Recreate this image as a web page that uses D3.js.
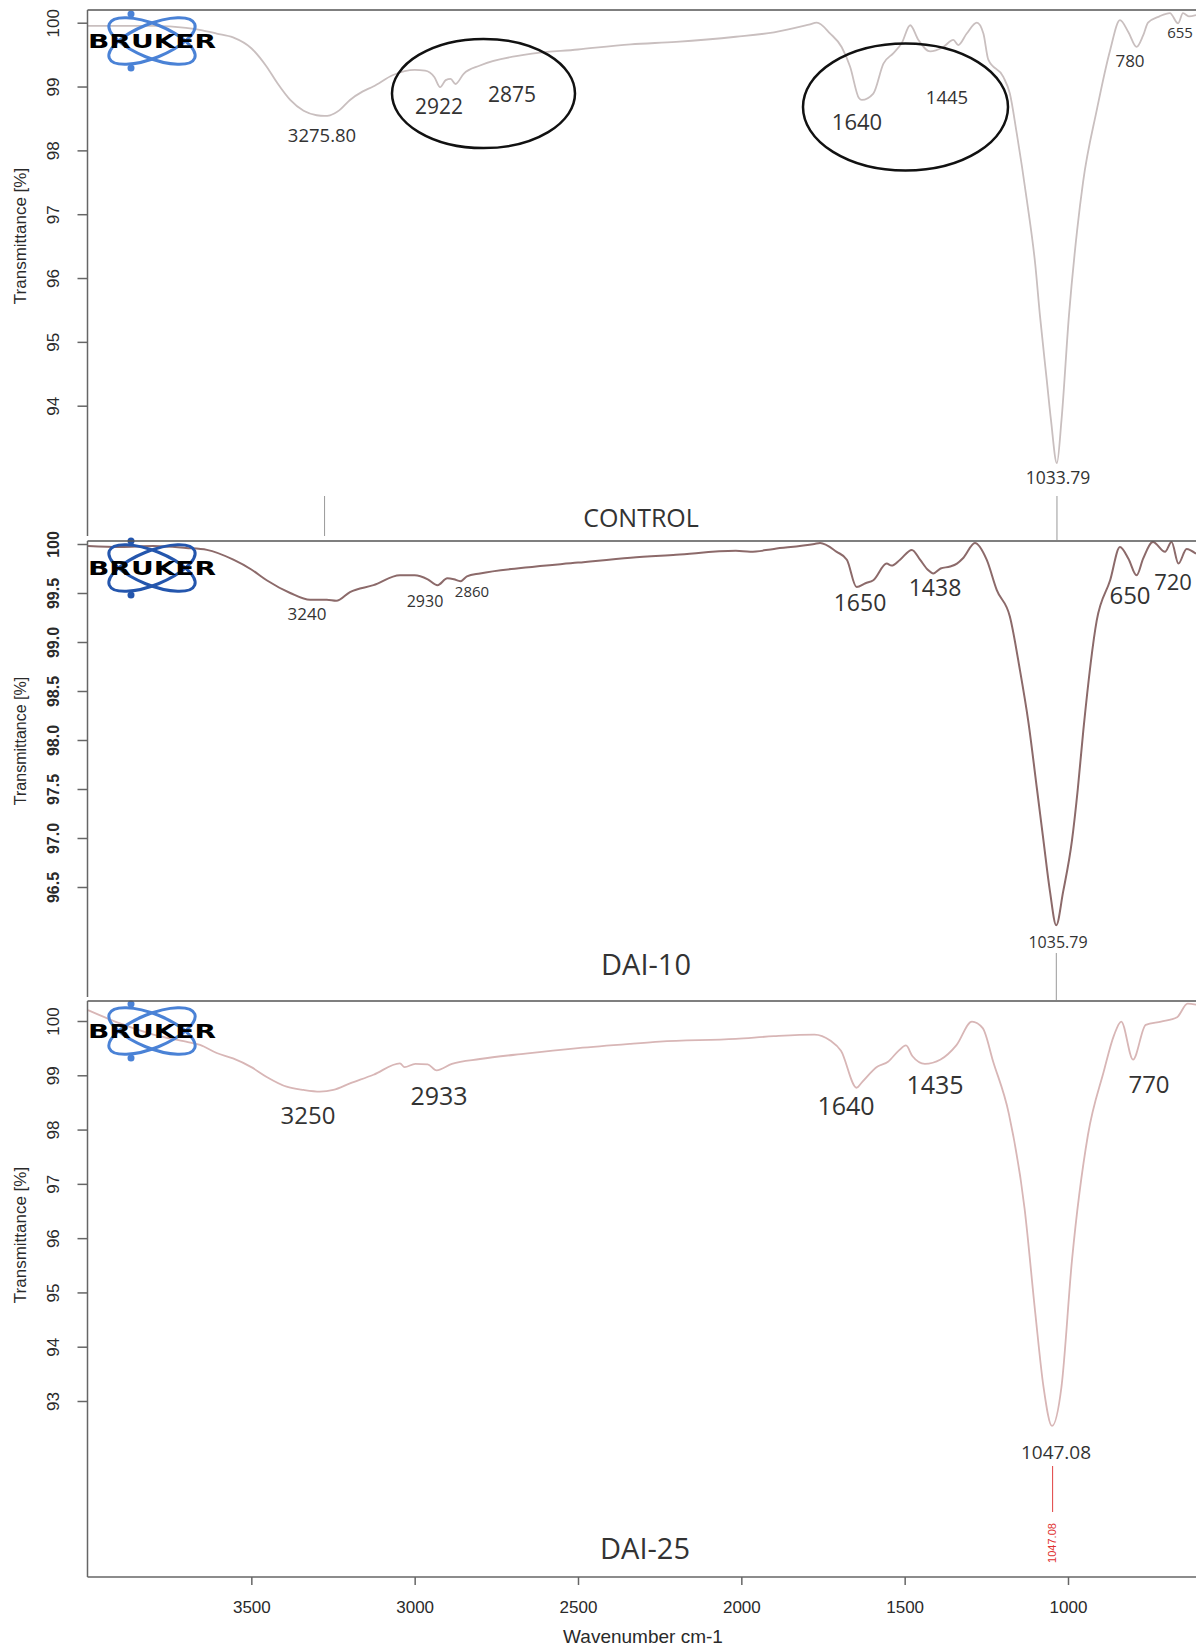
<!DOCTYPE html>
<head>
<meta charset="utf-8">
<style>
body, html {
  margin: 0;
  background: #fff;
  font-family: "Liberation Sans", arial;
}
.axis path, .axis line {
  stroke: #666;
  stroke-width: 1.5;
}
.axis text {
  font-family: "Liberation Sans", arial;
  fill: #2a2a2a;
}
.peak {
  font-family: "Open Sans", sans-serif;
  fill: #333;
}
.ylab {
  font-family: "Liberation Sans", arial;
  fill: #2a2a2a;
}
</style>
<script src="https://d3js.org/d3.v7.min.js"></script>
</head>
<body>
<script>

//==========================================
// x axis
var xTicks = [3500, 3000, 2500, 2000, 1500, 1000];

// CONTROL
var ctrlWn = [4000, 3900, 3800, 3700, 3650, 3606, 3556, 3500, 3453, 3420, 3381, 3340, 3300, 3276, 3259, 3230, 3198, 3160, 3127, 3066, 3000, 2968, 2940, 2922, 2905, 2890, 2875, 2850, 2800, 2661, 2500, 2339, 2200, 2017, 1900, 1793, 1769, 1728, 1693, 1667, 1640, 1631, 1596, 1565, 1535, 1509, 1483, 1458, 1422, 1382, 1351, 1336, 1310, 1279, 1259, 1244, 1198, 1178, 1157, 1126, 1100, 1086, 1065, 1052, 1034, 1020, 997, 972, 954, 912, 871, 841, 815, 790, 770, 755, 720, 688, 663, 648, 630, 608];
var ctrlT  = [99.95, 99.95, 99.95, 99.92, 99.88, 99.83, 99.77, 99.6, 99.31, 99.05, 98.79, 98.62, 98.55, 98.54, 98.55, 98.63, 98.79, 98.92, 99.0, 99.18, 99.26, 99.25, 99.15, 98.99, 99.1, 99.12, 99.04, 99.2, 99.33, 99.5, 99.58, 99.66, 99.7, 99.78, 99.85, 99.97, 100.0, 99.83, 99.62, 99.31, 98.82, 98.79, 98.89, 99.36, 99.52, 99.68, 99.96, 99.73, 99.55, 99.62, 99.73, 99.65, 99.83, 100.0, 99.83, 99.42, 99.15, 98.89, 98.27, 97.22, 96.2, 95.42, 94.4, 93.77, 93.1, 93.77, 95.42, 96.75, 97.5, 98.63, 99.57, 100.04, 99.85, 99.62, 99.8, 100.0, 100.1, 100.15, 99.99, 100.15, 100.1, 100.12];
var ctrlTicks = [100, 99, 98, 97, 96, 95, 94];

// DAI-10
var dai10Wn = [4000, 3900, 3800, 3700, 3636, 3555, 3500, 3453, 3381, 3320, 3269, 3240, 3198, 3126, 3045, 3000, 2960, 2930, 2900, 2880, 2860, 2840, 2800, 2661, 2500, 2339, 2200, 2017, 1973, 1900, 1776, 1759, 1708, 1677, 1647, 1620, 1596, 1555, 1540, 1514, 1478, 1453, 1430, 1412, 1390, 1361, 1340, 1320, 1285, 1249, 1218, 1178, 1147, 1122, 1095, 1075, 1055, 1036, 1015, 988, 970, 953, 912, 871, 841, 815, 790, 770, 740, 703, 683, 662, 637, 608];
var dai10T  = [99.98, 99.97, 99.98, 99.96, 99.94, 99.84, 99.74, 99.63, 99.5, 99.43, 99.43, 99.42, 99.51, 99.58, 99.68, 99.68, 99.64, 99.58, 99.65, 99.64, 99.62, 99.67, 99.7, 99.76, 99.81, 99.86, 99.89, 99.93, 99.92, 99.95, 100.0, 100.01, 99.92, 99.84, 99.56, 99.6, 99.63, 99.8, 99.78, 99.84, 99.94, 99.84, 99.74, 99.7, 99.75, 99.77, 99.8, 99.86, 100.01, 99.84, 99.53, 99.26, 98.71, 98.2, 97.5, 96.97, 96.45, 96.11, 96.45, 96.97, 97.5, 98.1, 99.22, 99.63, 99.97, 99.85, 99.68, 99.85, 100.02, 99.92, 100.02, 99.8, 99.95, 99.9];
var dai10Ticks = [100, 99.5, 99.0, 98.5, 98.0, 97.5, 97.0, 96.5];

// DAI-25
var dai25Wn = [4000, 3900, 3800, 3700, 3657, 3606, 3556, 3500, 3453, 3392, 3340, 3290, 3249, 3198, 3126, 3045, 3031, 2998, 2960, 2933, 2886, 2800, 2661, 2500, 2339, 2250, 2017, 1900, 1776, 1728, 1695, 1647, 1631, 1583, 1551, 1519, 1496, 1476, 1438, 1390, 1342, 1294, 1261, 1229, 1181, 1133, 1100, 1075, 1049, 1020, 988, 939, 891, 859, 837, 801, 762, 715, 666, 634, 608];
var dai25T  = [100.2, 99.95, 99.75, 99.62, 99.56, 99.41, 99.31, 99.15, 98.97, 98.79, 98.73, 98.7, 98.73, 98.85, 99.01, 99.22, 99.15, 99.21, 99.2, 99.09, 99.21, 99.3, 99.4, 99.5, 99.58, 99.62, 99.67, 99.72, 99.75, 99.64, 99.45, 98.77, 98.87, 99.16, 99.25, 99.45, 99.55, 99.35, 99.21, 99.29, 99.55, 99.99, 99.87, 99.25, 98.29, 96.55, 94.61, 93.26, 92.54, 93.26, 95.58, 97.9, 99.06, 99.74, 99.99, 99.29, 99.93, 99.99, 100.07, 100.32, 100.3];
var dai25Ticks = [100, 99, 98, 97, 96, 95, 94, 93];

//==========================================
var width = 1196,
    height = 1648,
    left = 87.5,
    right = 1196;

var svg = d3.select('body').append('svg')
    .attr('width', width)
    .attr('height', height);

var x = d3.scaleLinear()
    .domain([4000, 1000])
    .range([88, 1068]);

//--------------------------------------
function drawLogo(g, ty, blue) {
  var logo = g.append('g').attr('transform', 'translate(152,' + ty + ')');
  [-22, 22].forEach(function(a) {
    logo.append('ellipse')
      .attr('rx', 46).attr('ry', 17)
      .attr('transform', 'rotate(' + a + ')')
      .attr('fill', 'none')
      .attr('stroke', blue)
      .attr('stroke-width', 3);
  });
  logo.append('circle').attr('cx', -21).attr('cy', -27).attr('r', 3.5).attr('fill', blue);
  logo.append('circle').attr('cx', -21).attr('cy', 27).attr('r', 3.5).attr('fill', blue);
  logo.append('text')
    .attr('x', -64).attr('y', 7)
    .attr('textLength', 128)
    .attr('lengthAdjust', 'spacingAndGlyphs')
    .style('font-family', '"DejaVu Sans", sans-serif')
    .style('font-weight', 900)
    .style('font-size', '19px')
    .attr('fill', '#000')
    .text('BRUKER');
}

//--------------------------------------
function drawPanel(p) {
  var g = svg.append('g');
  var y = d3.scaleLinear().domain([100, p.tmin]).range([p.y100, p.ymin]);

  var clipId = 'clip' + p.id;
  svg.append('clipPath').attr('id', clipId)
    .append('rect')
    .attr('x', left).attr('y', p.top)
    .attr('width', right - left).attr('height', p.bottom - p.top);

  var data = p.wn.map(function(w, i) { return [w, p.t[i]]; });
  var line = d3.line()
    .x(function(d) { return x(d[0]); })
    .y(function(d) { return y(d[1]); })
    .curve(d3.curveMonotoneX);

  g.append('path')
    .datum(data)
    .attr('clip-path', 'url(#' + clipId + ')')
    .attr('fill', 'none')
    .attr('stroke', p.color)
    .attr('stroke-width', p.sw)
    .attr('d', line);

  drawLogo(g, p.logoY, p.blue);

  // frame: top and left
  g.append('line')
    .attr('x1', left).attr('x2', right)
    .attr('y1', p.top).attr('y2', p.top)
    .attr('stroke', '#555').attr('stroke-width', 1.5);

  var yAxis = d3.axisLeft(y)
    .tickValues(p.ticks)
    .tickSize(10)
    .tickSizeOuter(0)
    .tickFormat(p.fmt);
  var ya = g.append('g')
    .attr('class', 'axis')
    .attr('transform', 'translate(' + left + ',0)')
    .call(yAxis);
  ya.select('.domain').attr('d', 'M0,' + p.top + 'V' + p.bottom);
  ya.selectAll('.tick text')
    .attr('transform', 'rotate(-90)')
    .attr('x', 0).attr('y', -34)
    .attr('dy', '0.35em')
    .style('text-anchor', 'middle')
    .style('font-size', p.tickSize + 'px')
    .style('font-weight', p.bold ? 'bold' : 'normal');

  g.append('text')
    .attr('class', 'ylab')
    .attr('transform', 'translate(20,' + p.labY + ') rotate(-90)')
    .attr('text-anchor', 'middle')
    .attr('dy', '0.35em')
    .style('font-size', p.labSize + 'px')
    .text('Transmittance [%]');

  // peak markers
  p.marks.forEach(function(m) {
    g.append('line')
      .attr('x1', x(m.w)).attr('x2', x(m.w))
      .attr('y1', m.y1).attr('y2', m.y2)
      .attr('stroke', m.color || '#999')
      .attr('stroke-width', 1);
  });

  // peak labels
  p.labels.forEach(function(l) {
    g.append('text')
      .attr('class', 'peak')
      .attr('x', l.x).attr('y', l.y)
      .attr('dy', '0.35em')
      .attr('text-anchor', 'middle')
      .style('font-size', l.size + 'px')
      .text(l.text);
  });

  g.append('text')
    .attr('class', 'peak')
    .attr('x', p.name.x).attr('y', p.name.y)
    .attr('dy', '0.35em')
    .attr('text-anchor', 'middle')
    .style('font-size', p.name.size + 'px')
    .text(p.name.text);

  return g;
}

//==========================================
var g1 = drawPanel({
  id: 1, wn: ctrlWn, t: ctrlT, ticks: ctrlTicks, tmin: 94,
  y100: 22.7, ymin: 405.7, top: 10, bottom: 536,
  color: '#c9bfbf', sw: 1.8, logoY: 41, labY: 236, bold: false,
  blue: '#4a82d6', tickSize: 17, labSize: 17,
  fmt: d3.format('d'),
  marks: [{w: 3275.8, y1: 496, y2: 536}, {w: 1033.79, y1: 496, y2: 540}],
  labels: [
    {text: '3275.80', x: 322, y: 136, size: 18.5},
    {text: '2922', x: 439, y: 107, size: 21},
    {text: '2875', x: 512, y: 95, size: 21},
    {text: '1640', x: 857, y: 122, size: 22},
    {text: '1445', x: 947, y: 98, size: 18.5},
    {text: '780', x: 1130, y: 61, size: 17},
    {text: '655', x: 1180, y: 33, size: 15},
    {text: '1033.79', x: 1058, y: 478, size: 17.5}
  ],
  name: {text: 'CONTROL', x: 641, y: 518, size: 25}
});

// circled regions
[{cx: 483.5, cy: 93.5, rx: 91.5, ry: 54.6}, {cx: 905.5, cy: 107, rx: 102.5, ry: 63.5}].forEach(function(e) {
  g1.append('ellipse')
    .attr('cx', e.cx).attr('cy', e.cy)
    .attr('rx', e.rx).attr('ry', e.ry)
    .attr('fill', 'none')
    .attr('stroke', '#111')
    .attr('stroke-width', 2.5);
});

drawPanel({
  id: 2, wn: dai10Wn, t: dai10T, ticks: dai10Ticks, tmin: 96.5,
  y100: 544, ymin: 887, top: 541, bottom: 997,
  color: '#8c6a6a', sw: 2, logoY: 568, labY: 741, bold: true,
  blue: '#2456ad', tickSize: 16, labSize: 16,
  fmt: function(d) { return d === 100 ? '100' : d3.format('.1f')(d); },
  marks: [{w: 1035.79, y1: 953, y2: 1000}],
  labels: [
    {text: '3240', x: 307, y: 614, size: 17},
    {text: '2930', x: 425, y: 601, size: 16},
    {text: '2860', x: 472, y: 592, size: 15},
    {text: '1650', x: 860, y: 603, size: 23},
    {text: '1438', x: 935, y: 588, size: 23},
    {text: '650', x: 1130, y: 596, size: 24},
    {text: '720', x: 1173, y: 582, size: 22},
    {text: '1035.79', x: 1058, y: 942, size: 16}
  ],
  name: {text: 'DAI-10', x: 646, y: 965, size: 29}
});

var g3 = drawPanel({
  id: 3, wn: dai25Wn, t: dai25T, ticks: dai25Ticks, tmin: 93,
  y100: 1021, ymin: 1401, top: 1001, bottom: 1577,
  color: '#d8b6b6', sw: 1.8, logoY: 1031, labY: 1235, bold: false,
  blue: '#4a82d6', tickSize: 17, labSize: 17,
  fmt: d3.format('d'),
  marks: [{w: 1047.08, y1: 1466, y2: 1512, color: '#e04040'}],
  labels: [
    {text: '3250', x: 308, y: 1116, size: 24},
    {text: '2933', x: 439, y: 1096, size: 25},
    {text: '1640', x: 846, y: 1106, size: 25},
    {text: '1435', x: 935, y: 1085, size: 25},
    {text: '770', x: 1149, y: 1085, size: 24},
    {text: '1047.08', x: 1056, y: 1452, size: 19}
  ],
  name: {text: 'DAI-25', x: 645, y: 1549, size: 29}
});

g3.append('text')
  .attr('transform', 'translate(' + x(1047.08) + ',1543) rotate(-90)')
  .attr('text-anchor', 'middle')
  .attr('dy', '0.35em')
  .style('font-family', '"Liberation Sans", arial')
  .style('font-size', '11px')
  .attr('fill', '#e03030')
  .text('1047.08');

// x axis at the bottom
var xa = svg.append('g')
  .attr('class', 'axis')
  .attr('transform', 'translate(0,1577)')
  .call(d3.axisBottom(x).tickValues(xTicks).tickSize(8).tickSizeOuter(0).tickFormat(d3.format('d')));
xa.select('.domain').attr('d', 'M' + left + ',0H' + right);
xa.selectAll('.tick text').attr('y', 30).attr('dy', '0.35em').style('font-size', '17px');

svg.append('text')
  .attr('class', 'ylab')
  .attr('x', 643).attr('y', 1636)
  .attr('dy', '0.35em')
  .attr('text-anchor', 'middle')
  .style('font-size', '19px')
  .text('Wavenumber cm-1');

</script>
</body>
</html>
